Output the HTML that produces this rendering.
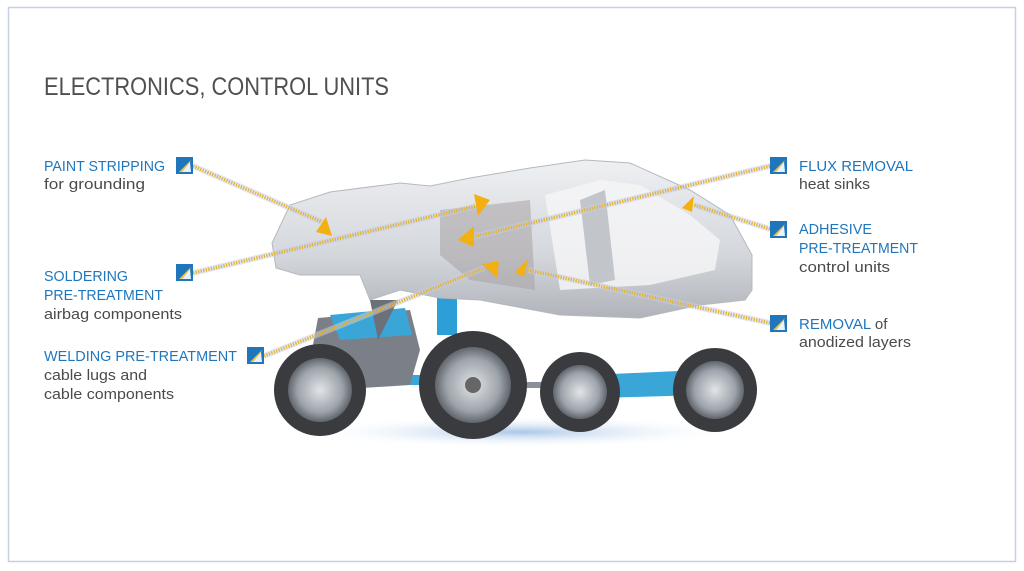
<!DOCTYPE html>
<html><head><meta charset="utf-8"><style>
html,body{margin:0;padding:0;background:#fff;}
svg{display:block;}
text{font-family:"Liberation Sans",sans-serif;}
.h{fill:#1f76bd;font-size:15px;}
.s{fill:#4a4a4a;font-size:15px;}
</style></head><body>
<svg width="1024" height="571" viewBox="0 0 1024 571" xmlns="http://www.w3.org/2000/svg">
<defs>
<linearGradient id="body" x1="0" y1="0" x2="0" y2="1">
<stop offset="0" stop-color="#eef0f2"/><stop offset="0.6" stop-color="#d4d7dc"/><stop offset="1" stop-color="#b0b4ba"/></linearGradient>
<radialGradient id="rim" cx="0.5" cy="0.5" r="0.5">
<stop offset="0" stop-color="#e2e5e8"/><stop offset="0.7" stop-color="#9da3aa"/><stop offset="1" stop-color="#60656c"/></radialGradient>
<radialGradient id="shadow" cx="0.5" cy="0.5" r="0.5">
<stop offset="0" stop-color="#6fa0d8" stop-opacity="0.6"/><stop offset="1" stop-color="#fff" stop-opacity="0"/></radialGradient>
<g id="icon"><rect width="17" height="17" fill="#1f76bd"/><path d="M3 15 L15 3 L14 5 L6 15Z" fill="#f2c230"/><path d="M6 15 L14 5 L15 15Z" fill="#fff" opacity="0.9"/></g>
</defs>
<rect x="8.5" y="7.5" width="1007" height="554" fill="#fff" stroke="#c5cfe6" stroke-width="1.5"/>
<text x="44" y="95" font-size="25" fill="#505050" textLength="345" lengthAdjust="spacingAndGlyphs">ELECTRONICS, CONTROL UNITS</text>

<ellipse cx="520" cy="432" rx="220" ry="16" fill="url(#shadow)"/>
<rect x="300" y="375" width="200" height="10" fill="#3aa6d8"/>
<rect x="520" y="382" width="200" height="6" fill="#8a9099"/>
<path d="M590 375 L700 370 L700 395 L600 398Z" fill="#3aa6d8"/>
<path d="M318 318 L410 310 L420 350 L410 385 L330 390 L312 350Z" fill="#7b8088"/>
<path d="M330 315 L405 308 L412 335 L340 340Z" fill="#3aa6d8"/>
<rect x="437" y="295" width="20" height="40" fill="#2e9fd6"/>
<circle cx="320" cy="390" r="46" fill="#3a3b3e"/><circle cx="320" cy="390" r="32" fill="url(#rim)"/>
<circle cx="580" cy="392" r="40" fill="#3a3b3e"/><circle cx="580" cy="392" r="27" fill="url(#rim)"/>
<circle cx="715" cy="390" r="42" fill="#3a3b3e"/><circle cx="715" cy="390" r="29" fill="url(#rim)"/>
<circle cx="473" cy="385" r="54" fill="#3a3b3e"/><circle cx="473" cy="385" r="38" fill="url(#rim)"/>
<circle cx="473" cy="385" r="8" fill="#666"/>
<path d="M272 243 L290 205 L330 192 L400 183 L430 186 L470 178 L530 168 L585 160 L630 163 L690 190 L730 215 L752 255 L752 290 L745 300 L700 305 L640 318 L560 315 L480 300 L440 298 L400 290 L370 300 L360 275 L300 275 L276 268Z" fill="url(#body)" stroke="#b5b9be" stroke-width="1"/>
<path d="M545 195 L600 180 L640 185 L690 215 L720 240 L715 270 L650 285 L560 290Z" fill="#f4f5f6" opacity="0.85"/>
<path d="M580 200 L605 190 L615 280 L590 285Z" fill="#c2c6cb"/>
<path d="M440 210 L530 200 L535 290 L470 280 L440 255Z" fill="#a8a2a4" opacity="0.55"/>
<path d="M370 300 L378 340 L398 300Z" fill="#6c7078"/>

<g fill="none">
<g stroke="#c4d2f0" stroke-width="6" opacity="0.5">
<line x1="193" y1="166" x2="322" y2="222"/>
<line x1="193" y1="273" x2="476" y2="206"/>
<line x1="264" y1="356" x2="484" y2="268"/>
<line x1="770" y1="166" x2="472" y2="237"/>
<line x1="770" y1="229" x2="694" y2="205"/>
<line x1="770" y1="323" x2="528" y2="270"/>
</g>
<g stroke="#e7b233" stroke-width="3.5" stroke-dasharray="1.3 1.3">
<line x1="193" y1="166" x2="322" y2="222"/>
<line x1="193" y1="273" x2="476" y2="206"/>
<line x1="264" y1="356" x2="484" y2="268"/>
<line x1="770" y1="166" x2="472" y2="237"/>
<line x1="770" y1="229" x2="694" y2="205"/>
<line x1="770" y1="323" x2="528" y2="270"/>
</g>
</g>
<g fill="#f2b011">
<path d="M326 217 L332 236 L316 232Z"/>
<path d="M490 200 L478 216 L474 194Z"/>
<path d="M458 240 L474 226 L474 247Z"/>
<path d="M497 278 L482 264 L499 261Z"/>
<path d="M515 272 L528 259 L524 277Z"/>
<path d="M682 208 L694 196 L692 212Z"/>
</g>

<use href="#icon" x="176" y="157"/>
<use href="#icon" x="176" y="264"/>
<use href="#icon" x="247" y="347"/>
<use href="#icon" x="770" y="157"/>
<use href="#icon" x="770" y="221"/>
<use href="#icon" x="770" y="315"/>

<text class="h" x="44" y="171" textLength="121" lengthAdjust="spacingAndGlyphs">PAINT STRIPPING</text>
<text class="s" x="44" y="189" textLength="101" lengthAdjust="spacingAndGlyphs">for grounding</text>
<text class="h" x="44" y="281" textLength="84" lengthAdjust="spacingAndGlyphs">SOLDERING</text>
<text class="h" x="44" y="300" textLength="119" lengthAdjust="spacingAndGlyphs">PRE-TREATMENT</text>
<text class="s" x="44" y="319" textLength="138" lengthAdjust="spacingAndGlyphs">airbag components</text>
<text class="h" x="44" y="361" textLength="193" lengthAdjust="spacingAndGlyphs">WELDING PRE-TREATMENT</text>
<text class="s" x="44" y="380" textLength="103" lengthAdjust="spacingAndGlyphs">cable lugs and</text>
<text class="s" x="44" y="399" textLength="130" lengthAdjust="spacingAndGlyphs">cable components</text>

<text class="h" x="799" y="171" textLength="114" lengthAdjust="spacingAndGlyphs">FLUX REMOVAL</text>
<text class="s" x="799" y="189" textLength="71" lengthAdjust="spacingAndGlyphs">heat sinks</text>
<text class="h" x="799" y="234" textLength="73" lengthAdjust="spacingAndGlyphs">ADHESIVE</text>
<text class="h" x="799" y="253" textLength="119" lengthAdjust="spacingAndGlyphs">PRE-TREATMENT</text>
<text class="s" x="799" y="272" textLength="91" lengthAdjust="spacingAndGlyphs">control units</text>
<text x="799" y="329" font-size="15"><tspan fill="#1f76bd">REMOVAL</tspan><tspan fill="#4a4a4a"> of</tspan></text>
<text class="s" x="799" y="347" textLength="112" lengthAdjust="spacingAndGlyphs">anodized layers</text>
</svg>
</body></html>
